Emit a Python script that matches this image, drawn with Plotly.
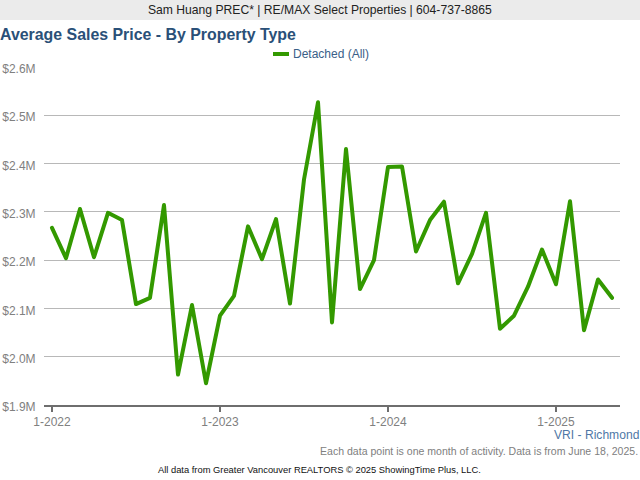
import plotly.graph_objects as go

months = [f"{m}-{y}" for y in (2022, 2023, 2024) for m in range(1, 13)] + [f"{m}-2025" for m in range(1, 6)]
avg_price_millions = [
    2.267, 2.204, 2.306, 2.206, 2.298, 2.283, 2.109, 2.122, 2.314, 1.963, 2.107, 1.945,
    2.085, 2.126, 2.270, 2.202, 2.285, 2.110, 2.367, 2.527, 2.071, 2.430, 2.140, 2.200,
    2.393, 2.394, 2.218, 2.283, 2.321, 2.152, 2.213, 2.298, 2.058, 2.085, 2.145, 2.222,
    2.150, 2.322, 2.055, 2.160, 2.122,
]
y_ticks = [1.9, 2.0, 2.1, 2.2, 2.3, 2.4, 2.5, 2.6]
y_labels = ["$1.9M", "$2.0M", "$2.1M", "$2.2M", "$2.3M", "$2.4M", "$2.5M", "$2.6M"]
x_labels = ["1-2022", "1-2023", "1-2024", "1-2025"]
x_index = list(range(len(months)))
x_ticks = [months.index(label) for label in x_labels]

FONT = "Liberation Sans, Arial, sans-serif"
L, R, T, B = 44, 20, 67, 75
PH = 480 - T - B
PW = 640 - L - R
def px(x): return (x - L) / PW
def py(y): return (480 - B - y) / PH

fig = go.Figure()
fig.add_trace(go.Scatter(
    x=x_index, y=avg_price_millions, mode="lines", name="Detached (All)",
    line=dict(color="#339900", width=4, shape="linear"),
    hoverinfo="skip",
))

def text(x, y, s, size, color, anchor="left", bold=False):
    fig.add_annotation(
        xref="paper", yref="paper", x=px(x), y=py(y), text=f"<b>{s}</b>" if bold else s,
        showarrow=False, xanchor=anchor, yanchor="middle",
        font=dict(family=FONT, size=size, color=color), borderpad=0, borderwidth=0,
    )

text(320, 10.5, "Sam Huang PREC* | RE/MAX Select Properties | 604-737-8865", 12.15, "#222222", "center")
text(0, 34, "Average Sales Price - By Property Type", 15.9, "#2a5078", bold=True)
text(293, 54, "Detached (All)", 12, "#3a6088")
text(639, 435, "VRI - Richmond", 12.1, "#4f77a6", "right")
text(638, 451, "Each data point is one month of activity. Data is from June 18, 2025.", 10.55, "#808080", "right")
text(158, 469.5, "All data from Greater Vancouver REALTORS © 2025 ShowingTime Plus, LLC.", 9.35, "#111111")

fig.add_shape(type="rect", xref="paper", yref="paper", x0=px(0), x1=px(640), y0=py(0), y1=py(20),
              fillcolor="#ebebeb", line_width=0, layer="below")
fig.add_shape(type="line", xref="paper", yref="paper", x0=px(273), x1=px(289), y0=py(54), y1=py(54),
              line=dict(color="#339900", width=4))

fig.update_layout(
    width=640, height=480, autosize=False,
    margin=dict(l=L, r=R, t=T, b=B, pad=0, autoexpand=False),
    paper_bgcolor="white", plot_bgcolor="white",
    font=dict(family=FONT, size=12, color="#808080"),
    showlegend=False,
    xaxis=dict(
        automargin=False,
        range=[-0.571, 40.571], tickmode="array", tickvals=x_ticks, ticktext=x_labels,
        showgrid=False, zeroline=False, showline=True, linecolor="#6e6e6e", linewidth=2,
        ticks="outside", ticklen=5, tickwidth=2, tickcolor="#6e6e6e",
        tickfont=dict(family=FONT, size=12, color="#808080"),
    ),
    yaxis=dict(
        automargin=False,
        range=[1.9, 2.6], tickmode="array", tickvals=y_ticks, ticktext=y_labels,
        showgrid=True, gridcolor="#b8b8b8", gridwidth=1, zeroline=False, showline=False,
        ticks="outside", ticklen=5, tickcolor="rgba(0,0,0,0)", ticklabelshift=2,
        tickfont=dict(family=FONT, size=12, color="#808080"),
    ),
)
fig.write_html("out.html", config=dict(displayModeBar=False),
               post_script="document.body.style.margin='0';document.documentElement.style.overflow='hidden';"
                           "document.querySelectorAll('.scatterlayer .js-line').forEach(function(e){e.style.strokeLinejoin='round';e.style.strokeLinecap='round';});")
